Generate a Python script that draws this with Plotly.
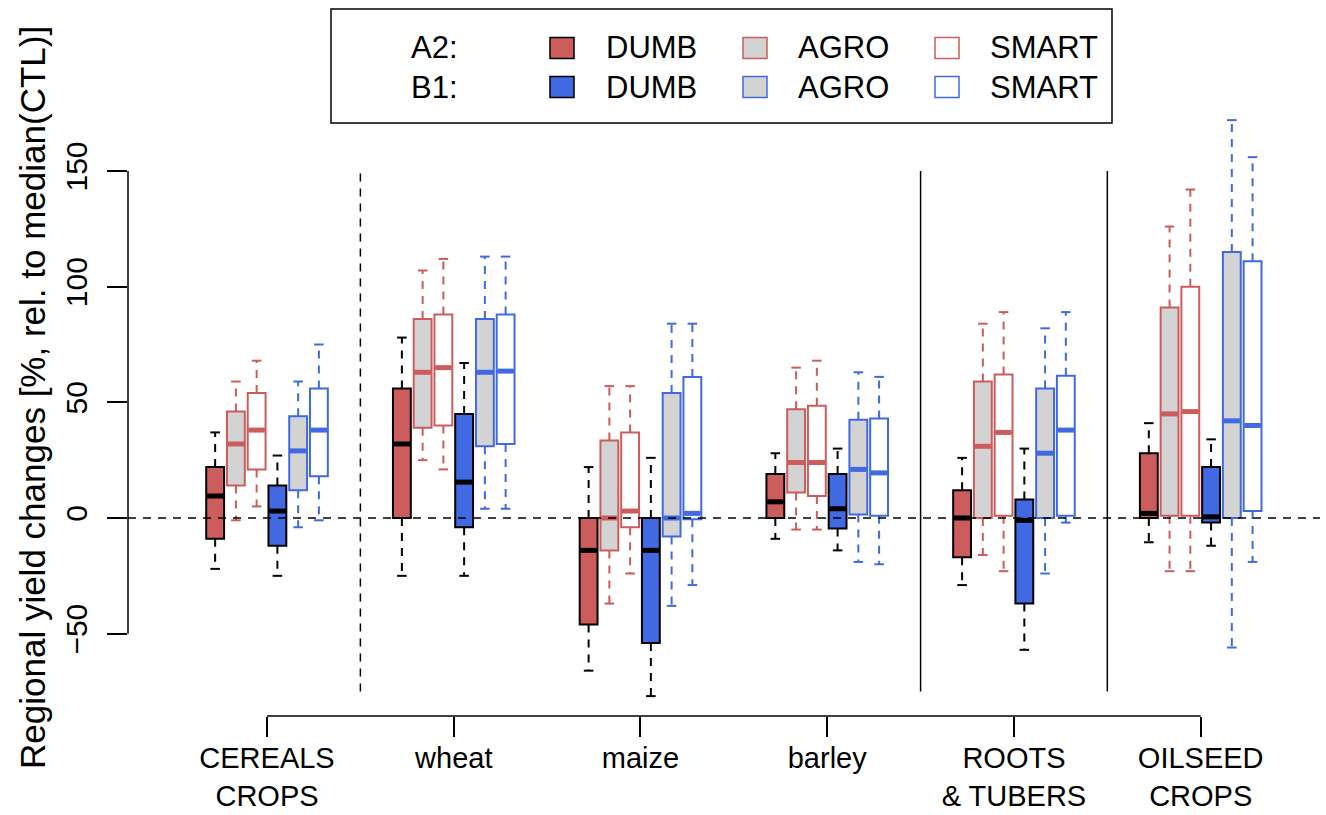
import plotly.graph_objects as go

# ---------------- data ----------------
crops = ["CEREALS<br>CROPS", "wheat", "maize", "barley", "ROOTS<br>& TUBERS", "OILSEED<br>CROPS"]
scenario_labels = ["DUMB", "AGRO", "SMART"]

A2_DUMB = dict(lower=[-22, -25, -66, -9, -29, -10.5],
               q1=[-9, 0, -46, 0, -17, 0],
               median=[9.5, 32, -14, 7, 0, 2],
               q3=[22, 56, 0, 19, 12, 28],
               upper=[37, 78, 22, 28, 26, 41])
A2_AGRO = dict(lower=[-1, 25, -37, -5, -16, -23],
               q1=[14, 39, -14, 11, 0, 1],
               median=[32, 63, 0, 24, 31, 45],
               q3=[46, 86, 33.5, 47, 59, 91],
               upper=[59, 107, 57, 65, 84, 126])
A2_SMART = dict(lower=[5, 21, -24, -5, -23, -23],
                q1=[21, 40, -4, 9.5, 1, 1],
                median=[38, 65, 3, 24, 37, 46],
                q3=[54, 88, 37, 48.5, 62, 100],
                upper=[68, 112, 57, 68, 89, 142])
B1_DUMB = dict(lower=[-25, -25, -77, -14, -57, -12],
               q1=[-12, -4, -54, -4.5, -37, -2],
               median=[3, 15.5, -14, 4, -1, 0.5],
               q3=[14, 45, 0, 19, 8, 22],
               upper=[27, 67, 26, 30, 30, 34])
B1_AGRO = dict(lower=[-4, 4, -38, -19, -24, -56],
               q1=[12, 31, -8, 1.5, 0, 0],
               median=[29, 63, 0, 21, 28, 42],
               q3=[44, 86, 54, 42.5, 56, 115],
               upper=[59, 113, 84, 63, 82, 172])
B1_SMART = dict(lower=[-1, 4, -29, -20, -2, -19],
                q1=[18, 32, -0.5, 1, 1, 3],
                median=[38, 63.5, 2, 19.5, 38, 40],
                q3=[56, 88, 61, 43, 61.5, 111],
                upper=[75, 113, 84, 61, 89, 156])

y_ticks = [-50, 0, 50, 100, 150]

# ---------------- styling ----------------
RED = "#CD5C5C"
BLUE = "#4169E1"
GREY = "#D3D3D3"
FONT = "Liberation Sans, Arial, Helvetica, sans-serif"

series = [
    (A2_DUMB, RED, "black", "black"),
    (A2_AGRO, GREY, RED, RED),
    (A2_SMART, "white", RED, RED),
    (B1_DUMB, BLUE, "black", "black"),
    (B1_AGRO, GREY, BLUE, BLUE),
    (B1_SMART, "white", BLUE, BLUE),
]

GROUP_STEP = 9
BOX_W = 0.86
CAP_W = 0.46


def pos(g, k):
    return GROUP_STEP * g + k + 1


group_centers = [GROUP_STEP * g + 3.5 for g in range(len(crops))]

fig = go.Figure()

# boxes
for k, (d, fill, edge, med) in enumerate(series):
    xs = [pos(g, k) for g in range(len(crops))]
    fig.add_trace(go.Box(
        x=xs, q1=d["q1"], median=d["median"], q3=d["q3"],
        lowerfence=d["q1"], upperfence=d["q3"],
        width=BOX_W, fillcolor=fill, line=dict(color=edge, width=2),
        boxpoints=False, whiskerwidth=0, showlegend=False, hoverinfo="skip"))

# whiskers, caps, medians
for k, (d, fill, edge, med) in enumerate(series):
    wx, wy, cx, cy, mx, my = [], [], [], [], [], []
    for g in range(len(crops)):
        p = pos(g, k)
        wx += [p, p, None, p, p, None]
        wy += [d["q3"][g], d["upper"][g], None, d["q1"][g], d["lower"][g], None]
        cx += [p - CAP_W / 2, p + CAP_W / 2, None, p - CAP_W / 2, p + CAP_W / 2, None]
        cy += [d["upper"][g], d["upper"][g], None, d["lower"][g], d["lower"][g], None]
        mx += [p - BOX_W / 2 + 0.04, p + BOX_W / 2 - 0.04, None]
        my += [d["median"][g], d["median"][g], None]
    fig.add_trace(go.Scatter(x=wx, y=wy, mode="lines",
                             line=dict(color=med, width=2, dash="8px,7px"),
                             showlegend=False, hoverinfo="skip"))
    fig.add_trace(go.Scatter(x=cx, y=cy, mode="lines",
                             line=dict(color=med, width=2),
                             showlegend=False, hoverinfo="skip"))
    fig.add_trace(go.Scatter(x=mx, y=my, mode="lines",
                             line=dict(color=med, width=5),
                             showlegend=False, hoverinfo="skip"))

# ---------------- layout geometry ----------------
L, R, T, B = 128, 1320, 97, 716
W, H = R - L, B - T


def px(x):
    return (x - L) / W


def py(y):
    return (B - y) / H


shapes = []
# zero line
shapes.append(dict(type="line", xref="paper", yref="y", x0=0, x1=1, y0=0, y1=0,
                   line=dict(color="black", width=1.5, dash="8px,7px"), layer="above"))
# separators between crop groups
sep_x = [(pos(0, 5) + pos(1, 0)) / 2, (pos(3, 5) + pos(4, 0)) / 2, (pos(4, 5) + pos(5, 0)) / 2]
sep_dash = ["8px,7px", "solid", "solid"]
for sx, sd in zip(sep_x, sep_dash):
    shapes.append(dict(type="line", xref="x", yref="y", x0=sx, x1=sx, y0=-75, y1=150,
                       line=dict(color="black", width=1.5, dash=sd)))
# R-style axis lines
shapes.append(dict(type="line", xref="paper", yref="y", x0=0, x1=0,
                   y0=y_ticks[0], y1=y_ticks[-1], line=dict(color="black", width=1.5)))
shapes.append(dict(type="line", xref="x", yref="paper", x0=group_centers[0],
                   x1=group_centers[-1], y0=0, y1=0, line=dict(color="black", width=1.5)))

# legend
shapes.append(dict(type="rect", xref="paper", yref="paper", x0=px(331), x1=px(1112),
                   y0=py(123), y1=py(9), line=dict(color="black", width=1.5),
                   fillcolor="white"))
annotations = []
row_y = [48, 87]
row_names = ["A2:", "B1:"]
sw_x = [550, 743, 935]
tx_x = [604, 796, 988]
for r, yc in enumerate(row_y):
    annotations.append(dict(text=row_names[r], xref="paper", yref="paper", x=px(409),
                            y=py(yc), xanchor="left", yanchor="middle", showarrow=False,
                            font=dict(size=31, color="black", family=FONT)))
    for j in range(3):
        d, fill, edge, med = series[r * 3 + j]
        shapes.append(dict(type="rect", xref="paper", yref="paper",
                           x0=px(sw_x[j]), x1=px(sw_x[j] + 24),
                           y0=py(yc + 10.5), y1=py(yc - 10.5),
                           fillcolor=fill, line=dict(color=edge, width=1.5)))
        annotations.append(dict(text=scenario_labels[j], xref="paper", yref="paper",
                                x=px(tx_x[j]), y=py(yc), xanchor="left", yanchor="middle",
                                showarrow=False,
                                font=dict(size=31, color="black", family=FONT)))

# y-axis title
annotations.append(dict(text="Regional yield changes [%, rel. to median(CTL)]",
                        xref="paper", yref="paper", x=px(32), y=py(398), textangle=-90,
                        xanchor="center", yanchor="middle", showarrow=False,
                        font=dict(size=35, color="black", family=FONT)))

fig.update_layout(
    template="none",
    width=1326, height=815,
    margin=dict(l=L, r=1326 - R, t=T, b=815 - B, pad=0, autoexpand=False),
    paper_bgcolor="white", plot_bgcolor="white",
    showlegend=False, boxmode="overlay",
    font=dict(family=FONT, size=30, color="black"),
    shapes=shapes, annotations=annotations,
    xaxis=dict(range=[-3.2, 54.25], tickvals=group_centers, ticktext=crops,
               ticks="outside", ticklen=20, tickwidth=1.5, tickcolor="black",
               showline=False, showgrid=False, zeroline=False, automargin=False,
               ticklabelstandoff=-4,
               tickfont=dict(size=29, family=FONT, color="black")),
    yaxis=dict(range=[-85.6, 182.0], tickvals=y_ticks,
               ticktext=[("\u2212" + str(-v)) if v < 0 else str(v) for v in y_ticks],
               ticks="outside", ticklen=20, tickwidth=1.5, tickcolor="black",
               tickangle=-90, showline=False, showgrid=False, zeroline=False,
               automargin=False, ticklabelstandoff=8,
               tickfont=dict(size=30, family=FONT, color="black")),
)

fig.write_html("out.html", config={"displayModeBar": False},
               post_script="document.body.style.margin='0';document.body.style.overflow='hidden';")
